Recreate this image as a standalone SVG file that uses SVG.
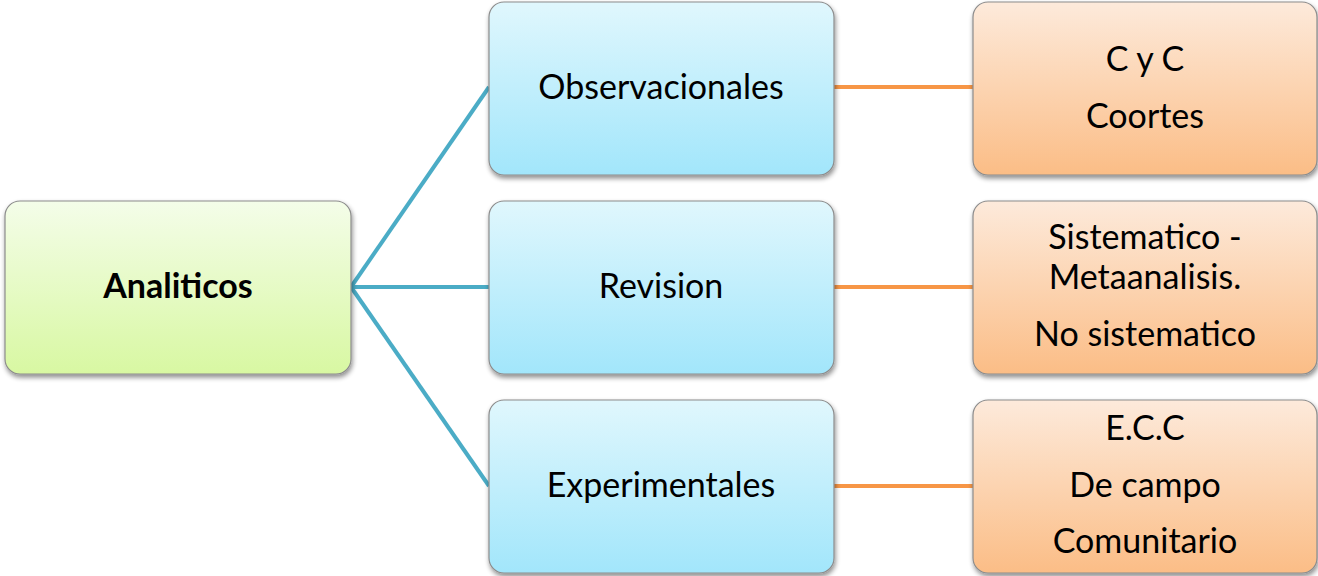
<svg xmlns="http://www.w3.org/2000/svg" width="1318" height="576" viewBox="0 0 1318 576">
<defs>
<linearGradient id="gGreen" x1="0" y1="0" x2="0" y2="1"><stop offset="0" stop-color="#f4fde9"/><stop offset="1" stop-color="#d8f8a2"/></linearGradient>
<linearGradient id="gBlue" x1="0" y1="0" x2="0" y2="1"><stop offset="0" stop-color="#e0f7fd"/><stop offset="1" stop-color="#a2e6fb"/></linearGradient>
<linearGradient id="gOrange" x1="0" y1="0" x2="0" y2="1"><stop offset="0" stop-color="#fdeadb"/><stop offset="1" stop-color="#fbbd86"/></linearGradient>
<filter id="sh" x="-5%" y="-5%" width="112%" height="120%"><feGaussianBlur in="SourceAlpha" stdDeviation="2.5"/><feOffset dx="1" dy="3"/><feComponentTransfer><feFuncA type="linear" slope="0.45"/></feComponentTransfer><feMerge><feMergeNode/><feMergeNode in="SourceGraphic"/></feMerge></filter>
</defs>
<style>
.box{stroke:#8c8c8c;stroke-width:1.2;filter:url(#sh)}
.g{fill:url(#gGreen)}.b{fill:url(#gBlue)}.o{fill:url(#gOrange)}
text{font-family:Lato,"Open Sans","Noto Sans",sans-serif;font-size:34px;fill:#000;text-anchor:middle}
.bold{font-weight:bold}
.cb{stroke:#4bacc6;stroke-width:4;fill:none}
.co{stroke:#f79646;stroke-width:4;fill:none}
</style>
<g id="connectors">
<line class="cb" x1="351" y1="287" x2="489" y2="87"/>
<line class="cb" x1="351" y1="287" x2="489" y2="287"/>
<line class="cb" x1="351" y1="287" x2="489" y2="486"/>
<line class="co" x1="834" y1="87" x2="973" y2="87"/>
<line class="co" x1="834" y1="287" x2="973" y2="287"/>
<line class="co" x1="834" y1="486" x2="973" y2="486"/>
</g>
<g id="n-analiticos"><rect class="box g" x="5" y="201" width="346" height="173" rx="15"/><text class="bold" x="178" y="298">Analiticos</text></g>
<g id="n-observacionales"><rect class="box b" x="489" y="2" width="345" height="173" rx="15"/><text x="661" y="99">Observacionales</text></g>
<g id="n-revision"><rect class="box b" x="489" y="201" width="345" height="173" rx="15"/><text x="661" y="298">Revision</text></g>
<g id="n-experimentales"><rect class="box b" x="489" y="400" width="345" height="173" rx="15"/><text x="661" y="497">Experimentales</text></g>
<g id="n-cyc"><rect class="box o" x="973" y="2" width="344" height="173" rx="15"/><text x="1145" y="71">C y C</text><text x="1145" y="128">Coortes</text></g>
<g id="n-sistematico"><rect class="box o" x="973" y="201" width="344" height="173" rx="15"/><text x="1145" y="249">Sistematico -</text><text x="1145" y="289">Metaanalisis.</text><text x="1145" y="346">No sistematico</text></g>
<g id="n-ecc"><rect class="box o" x="973" y="400" width="344" height="173" rx="15"/><text x="1145" y="440">E.C.C</text><text x="1145" y="497">De campo</text><text x="1145" y="553">Comunitario</text></g>
</svg>
